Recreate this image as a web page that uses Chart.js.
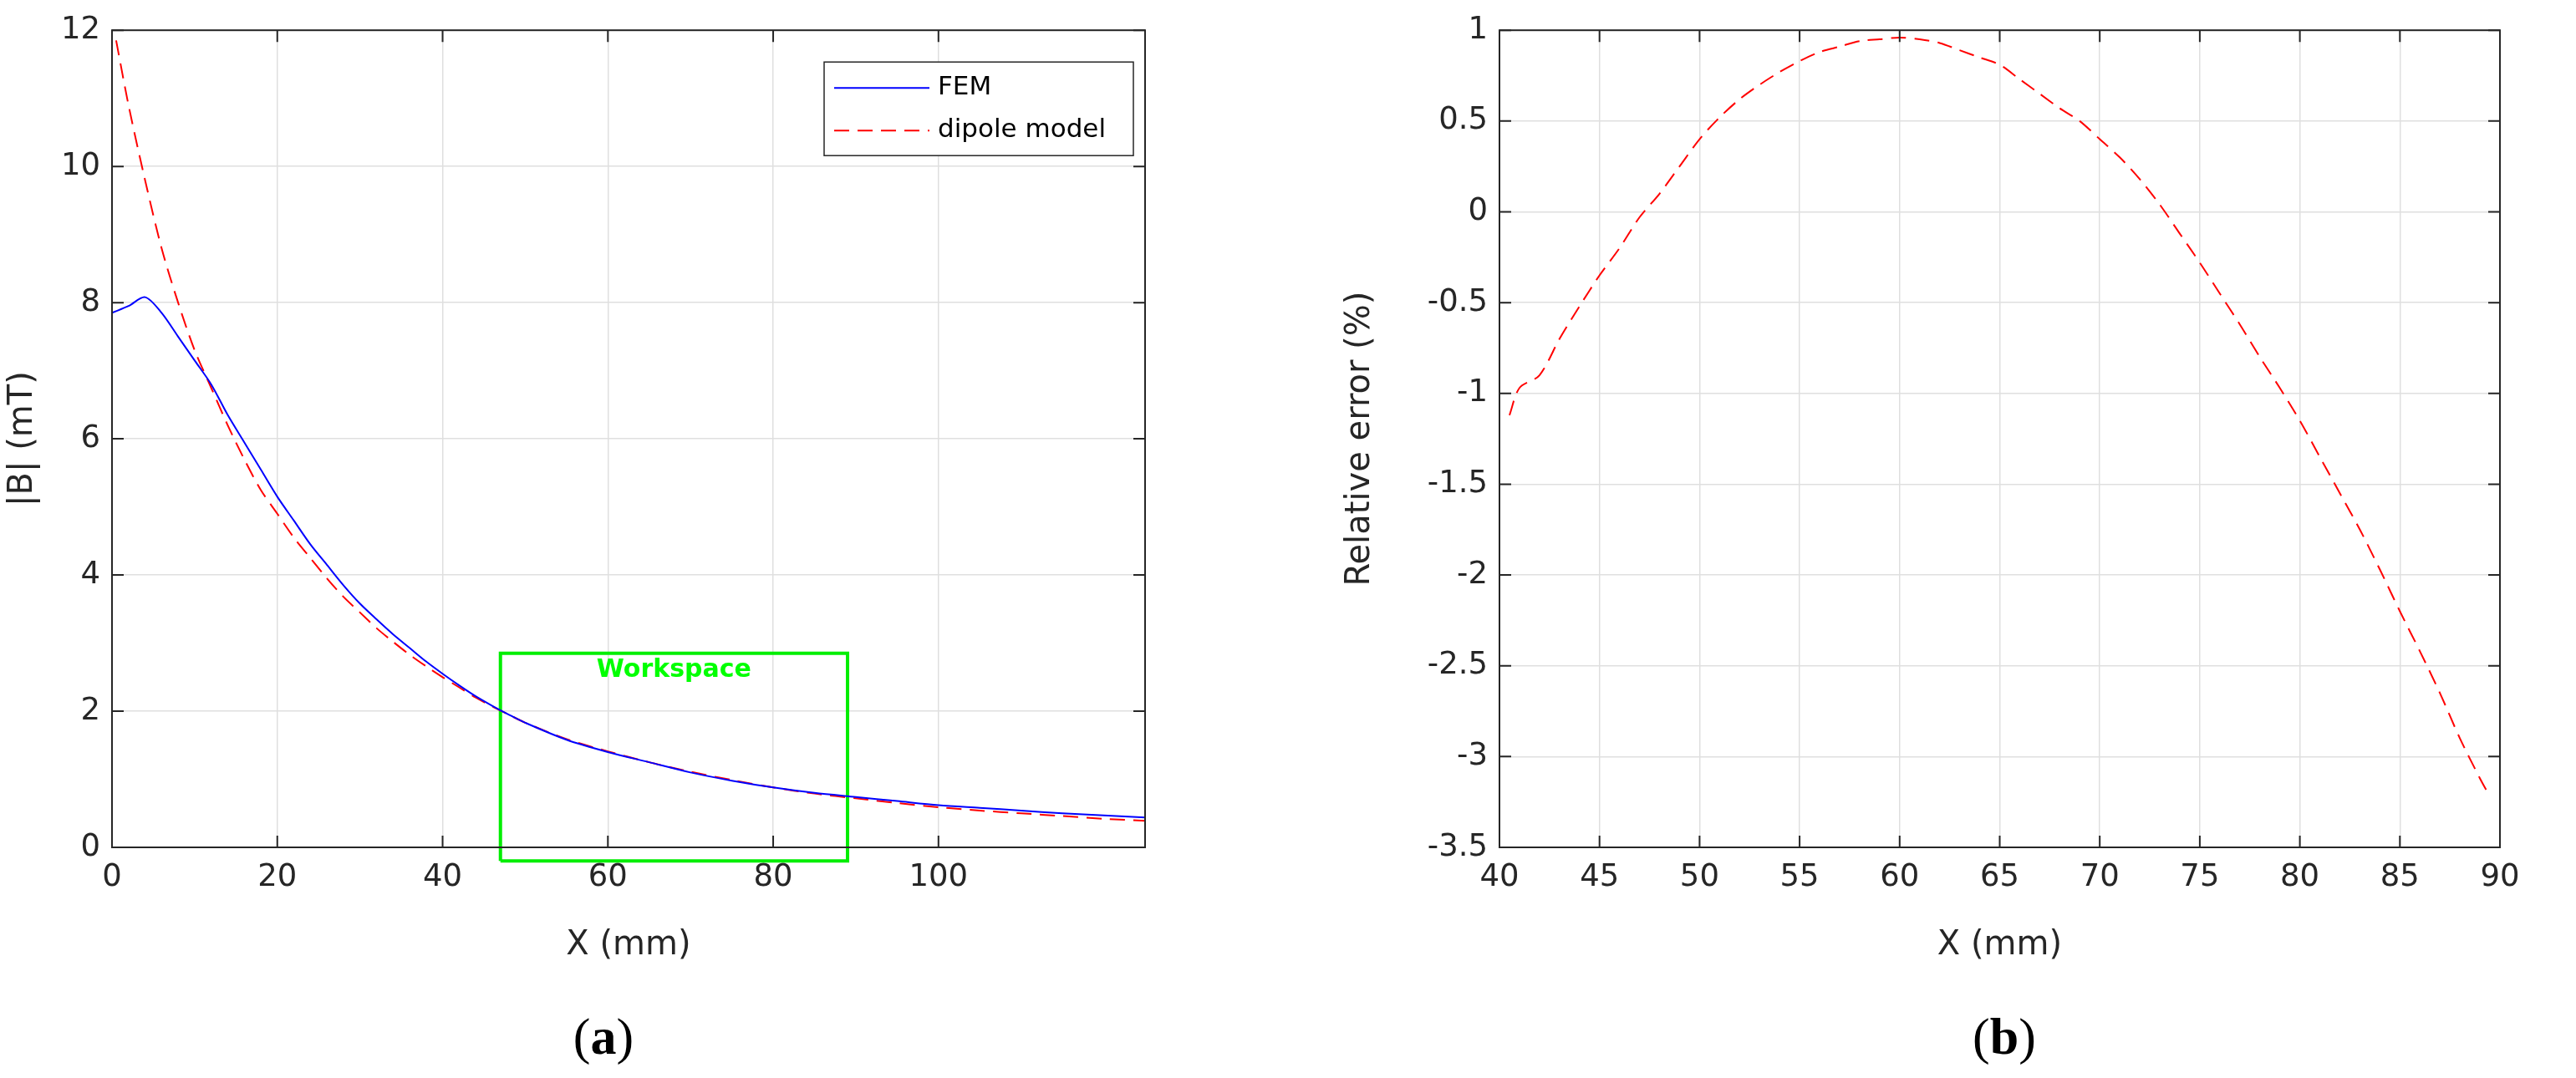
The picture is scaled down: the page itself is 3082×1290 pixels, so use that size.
<!DOCTYPE html>
<html><head><meta charset="utf-8">
<script src="https://cdn.jsdelivr.net/npm/chart.js@4.4.0/dist/chart.umd.min.js"></script>
<style>
body{margin:0;width:3082px;height:1290px;background:#fff;position:relative;overflow:hidden;font-family:"DejaVu Sans"}
.c{position:absolute;top:0}
.lab{position:absolute;top:1205px;font-family:"Liberation Serif";font-size:62px;transform:translateX(-50%)}
</style></head><body>
<div class="c" style="left:0;width:1420px;height:1160px"><canvas id="a"></canvas></div>
<div class="c" style="left:1600px;width:1482px;height:1160px"><canvas id="b"></canvas></div>
<div class="lab" style="left:722px">(<b>a</b>)</div>
<div class="lab" style="left:2398px">(<b>b</b>)</div>
<script>
const femX=[0,2,4,6,8,10,12,14,16,18,20,22,24,26,28,30,32,34,36,38,40,42,44,46,48,50,55,60,65,70,75,80,85,90,95,100,105,110,115,120,125];
const femY=[7.85,7.95,8.08,7.85,7.5,7.15,6.8,6.35,5.95,5.55,5.15,4.8,4.45,4.15,3.85,3.58,3.35,3.13,2.93,2.73,2.55,2.38,2.22,2.08,1.95,1.83,1.58,1.4,1.25,1.1,0.98,0.88,0.8,0.74,0.68,0.62,0.58,0.54,0.5,0.47,0.44];
const dipX=[0.5,2,4,6,8,10,12,14,16,18,20,22,24,26,28,30,32,34,36,38,40,42,44,46,48,50,55,60,65,70,75,80,85,90,95,100,105,110,115,120,125];
const dipY=[11.85,10.9,9.8,8.8,8.0,7.3,6.75,6.2,5.7,5.25,4.9,4.55,4.25,3.95,3.68,3.45,3.22,3.02,2.83,2.66,2.5,2.35,2.2,2.07,1.95,1.83,1.59,1.41,1.25,1.11,0.99,0.88,0.79,0.72,0.65,0.59,0.54,0.5,0.46,0.42,0.39];
const errX=[40.5,41,42,43,44,45,46,47,48,49,50,51,52,53,54,55,56,57,58,59,60,61,62,63,64,65,66,67,68,69,70,71,72,73,74,75,76,77,78,79,80,81,82,83,84,85,86,87,88,89,89.5];
const errY=[-1.12,-0.97,-0.9,-0.7,-0.52,-0.35,-0.2,-0.03,0.1,0.25,0.4,0.52,0.62,0.7,0.77,0.83,0.88,0.91,0.94,0.95,0.96,0.95,0.93,0.89,0.85,0.81,0.73,0.65,0.57,0.5,0.4,0.3,0.18,0.04,-0.12,-0.28,-0.45,-0.62,-0.8,-0.97,-1.15,-1.35,-1.55,-1.75,-1.97,-2.2,-2.42,-2.65,-2.9,-3.12,-3.22];
const wsX=[47,89,89,47,47];
const wsY=[-0.2,-0.2,2.85,2.85,-0.2];
const wsLabel='Workspace';
const pts=(xs,ys)=>xs.map((x,i)=>({x,y:ys[i]}));
const TXT='#262626';
Chart.defaults.font.family='"DejaVu Sans"';
Chart.defaults.color=TXT;
Chart.defaults.animation=false;
Chart.defaults.responsive=true;
Chart.defaults.maintainAspectRatio=false;
Chart.defaults.devicePixelRatio=1;

const boxPlugin={id:'box',afterDatasetsDraw(c){
  const {ctx,chartArea:a,scales}=c;
  ctx.save();ctx.strokeStyle=TXT;ctx.lineWidth=2;
  ctx.strokeRect(a.left,a.top,a.right-a.left,a.bottom-a.top);
  const L=14;
  scales.x.ticks.forEach(t=>{const p=scales.x.getPixelForValue(t.value);
    ctx.beginPath();ctx.moveTo(p,a.bottom);ctx.lineTo(p,a.bottom-L);ctx.moveTo(p,a.top);ctx.lineTo(p,a.top+L);ctx.stroke();});
  scales.y.ticks.forEach(t=>{const p=scales.y.getPixelForValue(t.value);
    ctx.beginPath();ctx.moveTo(a.left,p);ctx.lineTo(a.left+L,p);ctx.moveTo(a.right,p);ctx.lineTo(a.right-L,p);ctx.stroke();});
  const o=c.options.plugins.box||{};
  if(o.ws){const x=scales.x.getPixelForValue(68),y=scales.y.getPixelForValue(2.6);
    ctx.fillStyle='#00ff00';ctx.font='bold 30px "DejaVu Sans"';ctx.textAlign='center';ctx.textBaseline='middle';ctx.fillText(wsLabel,x,y);}
  if(o.legend){const w=370,h=112,x=a.right-14-w,y=a.top+38;
    ctx.fillStyle='#fff';ctx.fillRect(x,y,w,h);ctx.lineWidth=1.5;ctx.strokeRect(x,y,w,h);
    ctx.font='31px "DejaVu Sans"';ctx.textAlign='left';ctx.textBaseline='middle';ctx.fillStyle='#000';
    ctx.strokeStyle='#0000ff';ctx.lineWidth=2;ctx.beginPath();ctx.moveTo(x+12,y+31);ctx.lineTo(x+126,y+31);ctx.stroke();
    ctx.strokeStyle='#ff0000';ctx.setLineDash([18,10]);ctx.beginPath();ctx.moveTo(x+12,y+82);ctx.lineTo(x+126,y+82);ctx.stroke();ctx.setLineDash([]);
    ctx.fillText('FEM',x+136,y+31);ctx.fillText('dipole model',x+136,y+82);}
  ctx.restore();}};

function axes(xmin,xmax,xstep,ymin,ymax,ystep,ytitle,leftW){
  return {
    x:{type:'linear',min:xmin,max:xmax,
       afterBuildTicks(s){s.ticks=s.ticks.filter(t=>Math.abs(((t.value-xmin)/xstep)-Math.round((t.value-xmin)/xstep))<1e-6);},
       ticks:{stepSize:xstep,font:{size:37},padding:14,color:TXT,callback:v=>String(+v.toFixed(2))},
       grid:{color:'#dfdfdf',lineWidth:1.5,drawTicks:false},border:{display:false},
       title:{display:true,text:'X (mm)',font:{size:40},color:TXT,padding:{top:4}},
       afterFit(s){s.height=1160-1014;}},
    y:{type:'linear',min:ymin,max:ymax,ticks:{stepSize:ystep,font:{size:37},padding:14,color:TXT,callback:v=>String(+v.toFixed(2))},
       grid:{color:'#dfdfdf',lineWidth:1.5,drawTicks:false},border:{display:false},
       title:{display:true,text:ytitle,font:{size:40},color:TXT},
       afterFit(s){s.width=leftW;}}
  };
}

new Chart(document.getElementById('a'),{type:'line',
  data:{datasets:[
    {data:pts(femX,femY),borderColor:'#0000ff',borderWidth:2,pointRadius:0,tension:0.3},
    {data:pts(dipX,dipY),borderColor:'#ff0000',borderWidth:2,borderDash:[18,10],pointRadius:0,tension:0.3},
    {data:pts(wsX,wsY),borderColor:'#00ee00',borderWidth:4,pointRadius:0,tension:0,clip:false}
  ]},
  options:{layout:{padding:{top:35,right:50,left:0,bottom:0}},
    plugins:{legend:{display:false},tooltip:{enabled:false},box:{legend:true,ws:true}},
    scales:axes(0,125,20,0,12,2,'|B| (mT)',134)},
  plugins:[boxPlugin]});

new Chart(document.getElementById('b'),{type:'line',
  data:{datasets:[
    {data:pts(errX,errY),borderColor:'#ff0000',borderWidth:2,borderDash:[18,10],pointRadius:0,tension:0.3}
  ]},
  options:{layout:{padding:{top:35,right:91,left:0,bottom:0}},
    plugins:{legend:{display:false},tooltip:{enabled:false}},
    scales:axes(40,90,5,-3.5,1,0.5,'Relative error (%)',194)},
  plugins:[boxPlugin]});
</script></body></html>
